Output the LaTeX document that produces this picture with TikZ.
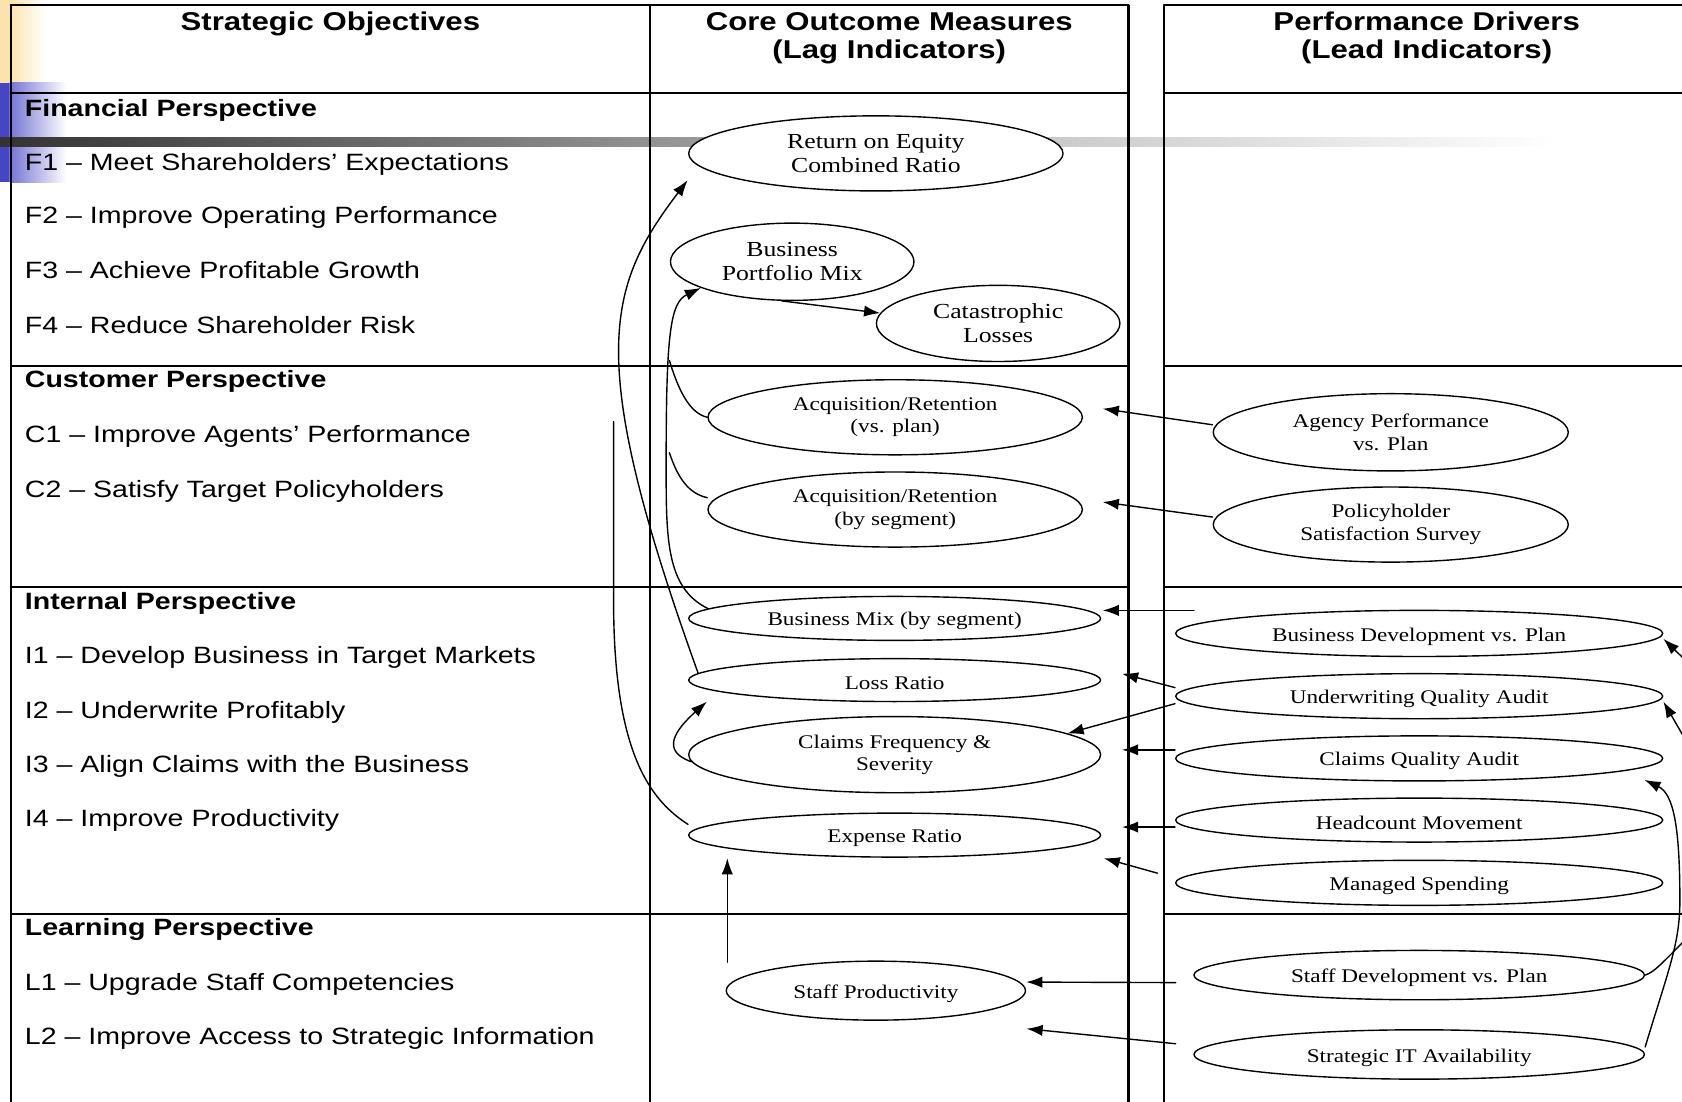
\documentclass[tikz,border=0pt]{standalone}
\usepackage{fontspec}
\setmainfont{Liberation Serif}[FakeStretch=1.2]
\newfontfamily\arialfont{Liberation Sans}[FakeStretch=1.21]
\usetikzlibrary{shapes.geometric,arrows.meta}
\definecolor{stripyellow}{HTML}{FBE3AE}
\definecolor{stripblue}{HTML}{4646C4}

\begin{document}
\begin{tikzpicture}[x=1pt,y=-1pt,line cap=round,line join=round,>={Latex[length=15pt,width=10.5pt]},
  every node/.style={inner sep=0pt},
  grid/.style={line width=2pt},
  head/.style={font=\arialfont\bfseries\fontsize{24}{27}\selectfont,anchor=base},
  persp/.style={font=\arialfont\bfseries\fontsize{22}{26}\selectfont,anchor=base west},
  item/.style={font=\arialfont\fontsize{22}{26}\selectfont,anchor=base west},
  oval/.style={draw,ellipse,fill=white,line width=1.3pt,align=center,font=\fontsize{18}{21}\selectfont,
    execute at begin node={\rule{0pt}{18pt}}},
  bigoval/.style={oval,font=\fontsize{20}{22}\selectfont,execute at begin node={\rule{0pt}{19.5pt}}},
  link/.style={line width=1.3pt}]
  \useasboundingbox (0,0) rectangle (1568,1027);
  \clip (0,0) rectangle (1568,1027);
  % background strips
  \fill[stripyellow] (0,0) rectangle (9,77);
  \shade[left color=stripyellow,right color=white] (9,0) rectangle (42,77);
  \fill[stripblue] (0,77) rectangle (9,170);
  \shade[left color=stripblue!75,right color=white] (9,77) rectangle (62,170);
  \shade[left color=black!80,right color=black!40] (0,128.5) rectangle (650,137);
  \shade[left color=black!40,right color=black!20] (650,128.5) rectangle (1000,137);
  \shade[left color=black!20,right color=white] (1000,128.5) rectangle (1450,137);
  % table
  \draw[grid] (10,5) -- (1052,5);
  \draw[grid] (1085,5) -- (1580,5);
  \foreach \x in {10,606,1052,1085} {
    \draw[grid] (\x,5) -- (\x,1035);
  }
  \foreach \y in {87,341,547,852} {
    \draw[grid] (10,\y) -- (1052,\y);
    \draw[grid] (1085,\y) -- (1580,\y);
  }
  % column heads
  \node[head] (hobj) at (308,28) {Strategic Objectives};
  \node[head] (hlag) at (829,28) {Core Outcome Measures};
  \node[head] (hlagsub) at (829,55) {(Lag Indicators)};
  \node[head] (hlead) at (1330,28) {Performance Drivers};
  \node[head] (hleadsub) at (1330,55) {(Lead Indicators)};
  % objectives
  \node[persp] (pfin) at (23,108.5) {Financial Perspective};
  \node[persp] (pcus) at (23,361.5) {Customer Perspective};
  \node[persp] (pint) at (23,568.5) {Internal Perspective};
  \node[persp] (plrn) at (23,872.5) {Learning Perspective};
  \foreach \nm/\yy/\tx in {f1/158.5/{F1 – Meet Shareholders’ Expectations},
      f2/208.5/{F2 – Improve Operating Performance},f3/259.5/{F3 – Achieve Profitable Growth},
      f4/310.5/{F4 – Reduce Shareholder Risk},c1/412.5/{C1 – Improve Agents’ Performance},
      c2/463.5/{C2 – Satisfy Target Policyholders},i1/618.5/{I1 – Develop Business in Target Markets},
      i2/669.5/{I2 – Underwrite Profitably},i3/720.5/{I3 – Align Claims with the Business},
      i4/770.5/{I4 – Improve Productivity},l1/923.5/{L1 – Upgrade Staff Competencies},
      l2/973.5/{L2 – Improve Access to Strategic Information}} {
    \node[item] (\nm) at (23,\yy) {\tx};
  }
  % outcome measures
  \node[bigoval,minimum width=349pt,minimum height=70pt] (roe) at (816.5,143) {Return on Equity\\Combined Ratio};
  \node[bigoval,minimum width=227pt,minimum height=72pt] (bpm) at (738.5,244) {Business\\Portfolio Mix};
  \node[bigoval,minimum width=227pt,minimum height=71pt] (cat) at (930.5,301.5) {Catastrophic\\Losses};
  \node[oval,minimum width=349pt,minimum height=70pt] (acqplan) at (834.5,389) {Acquisition/Retention\\(vs. plan)};
  \node[oval,minimum width=349pt,minimum height=70pt] (acqseg) at (834.5,475) {Acquisition/Retention\\(by segment)};
  \node[oval,minimum width=384pt,minimum height=41pt] (bmix) at (834,576.5) {Business Mix (by segment)};
  \node[oval,minimum width=384pt,minimum height=40pt] (loss) at (834,634) {Loss Ratio};
  \node[oval,minimum width=384pt,minimum height=71pt] (claimsfs) at (834,703.5) {Claims Frequency \&\\Severity};
  \node[oval,minimum width=384pt,minimum height=41pt] (expense) at (834,778.5) {Expense Ratio};
  \node[oval,minimum width=279pt,minimum height=55pt] (staffprod) at (816.5,923.5) {Staff Productivity};
  % drivers
  \node[oval,minimum width=331pt,minimum height=72pt] (agency) at (1296.5,403) {Agency Performance\\vs. Plan};
  \node[oval,minimum width=331pt,minimum height=70pt] (policy) at (1296.5,489) {Policyholder\\Satisfaction Survey};
  \node[oval,minimum width=454pt,minimum height=43pt] (busdev) at (1323,590.5) {Business Development vs. Plan};
  \node[oval,minimum width=454pt,minimum height=42pt] (uwaudit) at (1323,649) {Underwriting Quality Audit};
  \node[oval,minimum width=454pt,minimum height=42pt] (cqaudit) at (1323,707) {Claims Quality Audit};
  \node[oval,minimum width=454pt,minimum height=41pt] (headcount) at (1323,764.5) {Headcount Movement};
  \node[oval,minimum width=454pt,minimum height=42pt] (managed) at (1323,823) {Managed Spending};
  \node[oval,minimum width=420pt,minimum height=46pt] (staffdev) at (1323,909) {Staff Development vs. Plan};
  \node[oval,minimum width=420pt,minimum height=46pt] (stratit) at (1323,983) {Strategic IT Availability};
  % free ends
  \coordinate (roein) at (641,168);
  \coordinate (cfree) at (572,393);
  \coordinate (efree) at (624,336);
  \coordinate (ffree) at (624,422);
  \coordinate (lossin) at (659,654);
  \coordinate (hfree) at (678,897);
  \coordinate (expin) at (678,800);
  \coordinate (ta) at (1028,381);
  \coordinate (tb) at (1028,468);
  \coordinate (cstart) at (1113,569);
  \coordinate (tc) at (1028,569);
  \coordinate (td) at (1046,628);
  \coordinate (tf) at (1046,699);
  \coordinate (tg) at (1046,771);
  \coordinate (hstart) at (1079,814);
  \coordinate (th) at (1029,800);
  \coordinate (istart) at (1096,916);
  \coordinate (jstart) at (1096,973);
  \coordinate (tj) at (957,959);
  \coordinate (cqin) at (1533,727);
  \coordinate (r1out) at (1585,629);
  \coordinate (r2out) at (1580,705);
  \coordinate (r4out) at (1585,862);
  % links in the middle column
  \draw[link,->] (bpm.255) -- (cat.175);
  \draw[link,->] (loss.178) .. controls (545,334) and (565,268) .. (roein);
  \draw[link] (cfree) -- (572,560) .. controls (572,700) and (605,745) .. ([yshift=10pt]expense.west);
  \draw[link,->] (bmix.177) .. controls (620,548) and (621,500) .. (621,430)
    .. controls (621,310) and (625,282) .. (bpm.196);
  \draw[link] (efree) .. controls (632,362) and (642,385) .. (acqplan.west);
  \draw[link] (ffree) .. controls (632,446) and (642,460) .. ([yshift=11pt]acqseg.west);
  \draw[link,->] (claimsfs.182) .. controls (615,700) and (630,680) .. (lossin);
  \draw[link,->] (hfree) -- (expin);
  % links from the drivers
  \draw[link,->] ([yshift=7pt]agency.west) -- (ta);
  \draw[link,->] ([yshift=7pt]policy.west) -- (tb);
  \draw[link,->] (cstart) -- (tc);
  \draw[link,->] ([yshift=8pt]uwaudit.west) -- (td);
  \draw[link,->] ([yshift=-7pt]uwaudit.west) -- (claimsfs.7);
  \draw[link,->] ([yshift=8pt]cqaudit.west) -- (tf);
  \draw[link,->] ([yshift=-6.5pt]headcount.west) -- (tg);
  \draw[link,->] (hstart) -- (th);
  \draw[link,->] (istart) -- ([yshift=8pt]staffprod.east);
  \draw[link,->] (jstart) -- (tj);
  % links at the right edge
  \draw[link,->] (r1out) -- ([yshift=-5pt]busdev.east);
  \draw[link,->] (r2out) -- ([yshift=-5pt]uwaudit.east);
  \draw[link,->] ([yshift=7pt]stratit.east) .. controls (1555,905) and (1566,880) .. (1566,840)
    .. controls (1566,770) and (1560,740) .. (cqin);
  \draw[link] (staffdev.east) .. controls (1543,906) and (1550,897) .. (r4out);
\end{tikzpicture}
\end{document}
